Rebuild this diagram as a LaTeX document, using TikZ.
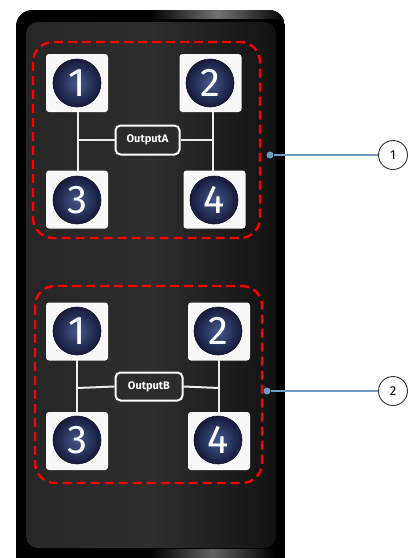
\documentclass[tikz,border=0pt]{standalone}
\usepackage{fontspec}
\setmainfont{Fira Sans}
\usetikzlibrary{calc}
\definecolor{panel}{HTML}{2B2B2B}
\definecolor{navyin}{HTML}{45598F}
\definecolor{navyout}{HTML}{141A3A}
\definecolor{callblue}{HTML}{6F9AC4}
\definecolor{sqfill}{HTML}{F8F8F8}
\tikzset{
  sq/.style={draw=none,fill=sqfill,rounded corners=3pt,minimum width=62pt,minimum height=58pt,inner sep=0pt},
  num/.style={circle,minimum size=48pt,inner sep=0pt,shading=radial,inner color=navyin,outer color=navyout,draw=navyout!70!black,line width=0.6pt,text=white,font=\fontsize{40}{40}\selectfont},
  wire/.style={draw=white!92!black,line width=2pt},
  outbox/.style={draw=white,line width=2pt,fill=panel,rounded corners=5pt,text=white,font=\fontsize{11}{11}\selectfont\bfseries,inner sep=0pt},
  redbox/.style={draw=red,dash pattern=on 9pt off 5pt,line width=2.4pt,rounded corners=20pt},
  dot/.style={circle,fill=callblue,minimum size=7pt,inner sep=0pt},
  callout/.style={circle,draw=black!80,fill=white,line width=0.9pt,minimum size=29pt,inner sep=0pt,font=\fontsize{13}{13}\selectfont},
  leader/.style={draw=callblue,line width=1.6pt}
}
\begin{document}
\begin{tikzpicture}[x=1pt,y=-1pt]
\useasboundingbox (0,0) rectangle (409,558);
\clip (0,0) rectangle (409,558);
% body
\begin{scope}
\clip[rounded corners=16pt] (16,10) rectangle (285,590);
\fill[black] (16,10) rectangle (285,590);
\shade[left color=black,right color=black,middle color=white!45!black] (150,10) rectangle (285,18);
\shade[left color=black,right color=black,middle color=white!38!black] (150,549) rectangle (275,558);
\end{scope}
\shade[rounded corners=12pt,left color=black!85,right color=black!93,middle color=black!82] (26,22) rectangle (276,548);

% ===== Group A =====
\draw[redbox] (33,42) rectangle (260,238);
\node[sq] (sa1) at (77,83) {};
\node[sq] (sa2) at (210.5,83) {};
\node[sq] (sa3) at (77,199.5) {};
\node[sq] (sa4) at (214.5,199.5) {};
\node[num] (na1) at (77,83) {1};
\node[num] (na2) at (210,83) {2};
\node[num] (na3) at (77,200) {3};
\node[num] (na4) at (214,200) {4};
\coordinate (ja1) at (78,140);
\coordinate (ja2) at (213,140);
\draw[wire] (78,112) -- (ja1) -- (78,171);
\draw[wire] (213,112) -- (ja2) -- (213,171);
\node[outbox,minimum width=64pt,minimum height=29pt] (oa) at (147.5,140) {OutputA};
\draw[wire] (ja1) -- (oa.west);
\draw[wire] (oa.east) -- (ja2);

% ===== Group B =====
\draw[redbox] (35,286) rectangle (262,483);
\node[sq] (sb1) at (77,331.5) {};
\node[sq] (sb2) at (219,331.5) {};
\node[sq] (sb3) at (77,441) {};
\node[sq] (sb4) at (219,441) {};
\node[num] (nb1) at (77,331) {1};
\node[num] (nb2) at (218,331) {2};
\node[num] (nb3) at (77,440) {3};
\node[num] (nb4) at (218,440) {4};
\coordinate (jb1) at (77,388);
\coordinate (jb2) at (219,388);
\draw[wire] (77,360) -- (jb1) -- (77,412);
\draw[wire] (219,360) -- (jb2) -- (219,412);
\node[outbox,minimum width=67pt,minimum height=28pt] (ob) at (149,386.5) {OutputB};
\draw[wire] (jb1) -- (ob.west);
\draw[wire] (ob.east) -- (jb2);

% callouts
\node[dot] (d1) at (270,155) {};
\node[callout] (c1) at (393,155) {1};
\draw[leader] (d1) -- (c1);
\node[dot] (d2) at (267,391) {};
\node[callout] (c2) at (393,391) {2};
\draw[leader] (d2) -- (c2);
\end{tikzpicture}
\end{document}
